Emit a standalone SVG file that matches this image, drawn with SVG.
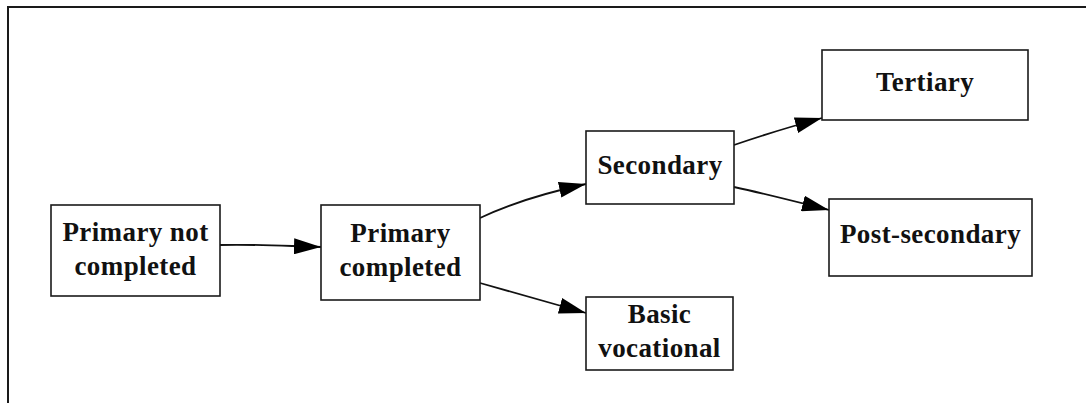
<svg xmlns="http://www.w3.org/2000/svg" width="1086" height="403" viewBox="0 0 1086 403">
<style>
.frame{fill:none;stroke:#1a1a1a;stroke-width:2}
.box{fill:#fff;stroke:#1a1a1a;stroke-width:1.6}
.lbl{font-family:"Liberation Serif","Times New Roman",serif;font-weight:bold;font-size:27px;fill:#111;text-anchor:middle;letter-spacing:0.4px}
.edge{fill:none;stroke:#111;stroke-width:1.8;marker-end:url(#arr)}
</style>
<defs>
<marker id="arr" viewBox="0 0 27 16" refX="27" refY="8" markerWidth="27" markerHeight="16" orient="auto" markerUnits="userSpaceOnUse">
<path d="M0,0 L27,8 L0,16 Z" fill="#000"/>
</marker>
</defs>
<rect class="frame" x="8" y="7" width="1100" height="420"/>
<g id="connectors">
<path class="edge" d="M220,245 C255,244 285,246 321,247"/>
<path class="edge" d="M480,218 C505,206 540,194 586,184"/>
<path class="edge" d="M480,283 C515,293 550,303 586,313"/>
<path class="edge" d="M734,145 C763,135 793,126 822,118"/>
<path class="edge" d="M734,187 C766,194 797,202 829,210"/>
</g>
<g id="n-primary-not">
<rect class="box" x="51" y="205" width="169" height="91"/>
<text class="lbl" x="135.5" y="241">Primary not</text>
<text class="lbl" x="135.5" y="275">completed</text>
</g>
<g id="n-primary">
<rect class="box" x="321" y="205" width="159" height="95"/>
<text class="lbl" x="400.5" y="242">Primary</text>
<text class="lbl" x="400.5" y="276">completed</text>
</g>
<g id="n-secondary">
<rect class="box" x="586" y="131" width="148" height="73"/>
<text class="lbl" x="660" y="174">Secondary</text>
</g>
<g id="n-basic">
<rect class="box" x="586" y="297" width="147" height="73"/>
<text class="lbl" x="659.5" y="323">Basic</text>
<text class="lbl" x="659.5" y="357">vocational</text>
</g>
<g id="n-tertiary">
<rect class="box" x="822" y="50" width="206" height="70"/>
<text class="lbl" x="925" y="91">Tertiary</text>
</g>
<g id="n-postsecondary">
<rect class="box" x="829" y="199" width="203" height="77"/>
<text class="lbl" x="930.5" y="243">Post-secondary</text>
</g>
</svg>
